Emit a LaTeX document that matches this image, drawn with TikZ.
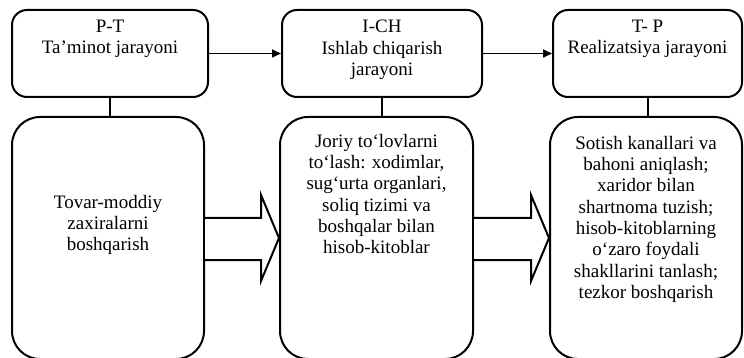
\documentclass[tikz,border=0pt]{standalone}
\usepackage{fontspec}
\setmainfont{Liberation Serif}
\usetikzlibrary{calc,arrows.meta}
\begin{document}
\begin{tikzpicture}[x=1pt,y=-1pt,
  stage/.style={draw=black, line width=2pt, rounded corners=15pt, inner sep=0pt, minimum height=87pt},
  panel/.style={draw=black, line width=2pt, rounded corners=28pt, inner sep=0pt, minimum height=242pt},
  caption/.style={align=center, inner sep=0pt, anchor=north, font=\fontsize{19}{21.3}\selectfont},
  link/.style={line width=1.6pt, -{Triangle[length=9pt,width=8pt]}},
  stem/.style={line width=2pt},
  blockarrow/.style={draw=black, line width=2pt, line join=miter, fill=white}]
\useasboundingbox (0,0) rectangle (744,358);
\clip (0,0) rectangle (744,358);

% process stages (top row)
\node[stage, minimum width=196pt] (top1) at (110,53.5) {};
\node[stage, minimum width=200pt] (top2) at (382,53.5) {};
\node[stage, minimum width=189pt] (top3) at (647.5,53.5) {};

% task panels (bottom row)
\node[panel, minimum width=192pt] (bot1) at (108,238) {};
\node[panel, minimum width=193pt] (bot2) at (376.5,238) {};
\node[panel, minimum width=192pt] (bot3) at (646,238) {};

% stage captions
\node[caption] (c1) at ($(top1.north)+(0,11)$) {P-T\\Ta’minot jarayoni};
\node[caption] (c2) at ($(top2.north)+(0,11)$) {I-CH\\Ishlab chiqarish\\jarayoni};
\node[caption] (c3) at ($(top3.north)+(0,11)$) {T- P\\Realizatsiya jarayoni};

% panel texts
\node[caption] (p1) at ($(bot1.north)+(0,79)$) {Tovar-moddiy\\zaxiralarni\\boshqarish};
\node[caption] (p2) at ($(bot2.north)+(0,18)$) {Joriy to‘lovlarni\\to‘lash: xodimlar,\\sug‘urta organlari,\\soliq tizimi va\\boshqalar bilan\\hisob-kitoblar};
\node[caption] (p3) at ($(bot3.north)+(0,20)$) {Sotish kanallari va\\bahoni aniqlash;\\xaridor bilan\\shartnoma tuzish;\\hisob-kitoblarning\\o‘zaro foydali\\shakllarini tanlash;\\tezkor boshqarish};

% stage to panel stems
\draw[stem] (top1.south) -- (top1.south |- bot1.north);
\draw[stem] (top2.south) -- (top2.south |- bot2.north);
\draw[stem] (top3.south) -- (top3.south |- bot3.north);

% flow between stages
\draw[link] (top1.east) -- (top2.west);
\draw[link] (top2.east) -- (top3.west);

% block arrows between panels
\draw[blockarrow] ($(bot1.east)+(0,-20)$) -- ($(bot2.west)+(-18,-20)$) -- ($(bot2.west)+(-18,-43)$)
  -- (bot2.west) -- ($(bot2.west)+(-18,43)$) -- ($(bot2.west)+(-18,22)$) -- ($(bot1.east)+(0,22)$);
\draw[blockarrow] ($(bot2.east)+(0,-20)$) -- ($(bot3.west)+(-18,-20)$) -- ($(bot3.west)+(-18,-43)$)
  -- (bot3.west) -- ($(bot3.west)+(-18,43)$) -- ($(bot3.west)+(-18,22)$) -- ($(bot2.east)+(0,22)$);
\end{tikzpicture}
\end{document}
